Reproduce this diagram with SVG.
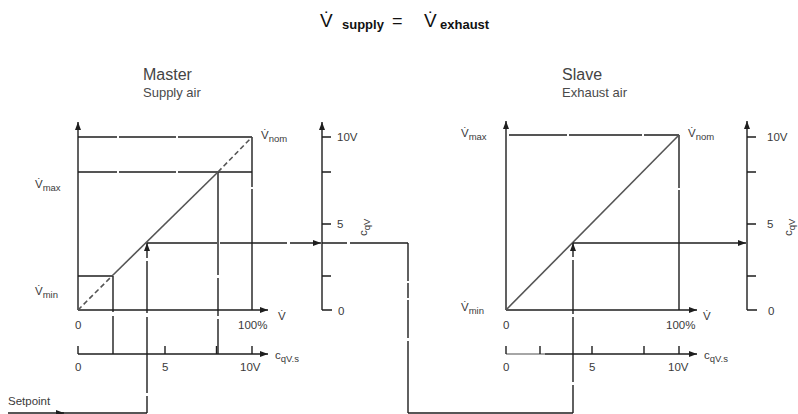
<svg xmlns="http://www.w3.org/2000/svg" width="798" height="414" viewBox="0 0 798 414">
<style>
text{font-family:"Liberation Sans","DejaVu Sans",sans-serif;fill:#3a3a3a}
.ln{stroke:#1e1e1e;stroke-width:1.4;fill:none}
.dg{stroke:#555;stroke-width:1.6;fill:none}
.lb{font-size:11.5px}
.sb{font-size:9.5px}
.ttl{font-size:16px;fill:#444}
.sub{font-size:13px;fill:#4a4a4a}
.fm{fill:#111}
</style>
<defs>
<marker id="arr" viewBox="0 0 8 6" refX="8" refY="3" markerWidth="8" markerHeight="6" markerUnits="userSpaceOnUse" orient="auto"><path d="M0,0 L8,3 L0,6 z" fill="#1e1e1e"/></marker>
</defs>
<rect width="798" height="414" fill="#fff"/>

<g id="formula">
<text class="fm" x="320" y="27" font-size="19">V&#x307;</text>
<text class="fm" x="342" y="29" font-size="13" font-weight="bold">supply</text>
<text class="fm" x="392" y="27" font-size="18">=</text>
<text class="fm" x="424" y="27" font-size="19">V&#x307;</text>
<text class="fm" x="440" y="29" font-size="13" font-weight="bold">exhaust</text>
</g>

<g id="master">
<text class="ttl" x="143" y="80">Master</text>
<text class="sub" x="143" y="97">Supply air</text>
<path class="ln" d="M78,310 V122" marker-end="url(#arr)"/>
<path class="ln" d="M78,310 H268" marker-end="url(#arr)"/>
<path class="ln" d="M78,354 H268" marker-end="url(#arr)"/>
<path class="ln" d="M78,346 V354 M165,346 V354 M252,346 V354"/>
<path class="ln" d="M78,137 H252" stroke-dasharray="39 2 57 2 200"/>
<path class="ln" d="M78,172 H252" stroke-dasharray="39 2 57 2 200"/>
<path class="ln" d="M252,137 V310" stroke-dasharray="50 2 300"/>
<path class="ln" d="M218,172 V354" stroke-dasharray="103 3 38 3 200"/>
<path class="ln" d="M216.5,346 V354" stroke-width="2"/>
<path class="ln" d="M78,276 H113"/>
<path class="ln" d="M113,276 V354" stroke-dasharray="36 4 100"/>
<path class="dg" d="M78,310 L112,276" stroke-dasharray="5 3"/>
<path class="dg" d="M112,276 L218,172"/>
<path class="dg" d="M218,172 L252,137" stroke-dasharray="5 3"/>
<path class="ln" d="M322,310 V122" marker-end="url(#arr)"/>
<path class="ln" d="M322,137 H331 M322,172 H331 M322,224 H331 M322,276 H331 M322,310 H332"/>
<text class="lb" x="261" y="139">V&#x307;<tspan class="sb" dy="2.5">nom</tspan></text>
<text class="lb" x="35" y="188">V&#x307;<tspan class="sb" dy="2.5">max</tspan></text>
<text class="lb" x="35" y="295">V&#x307;<tspan class="sb" dy="2.5">min</tspan></text>
<text class="lb" x="337" y="141">10V</text>
<text class="lb" x="337" y="228">5</text>
<text class="lb" x="338" y="315">0</text>
<text class="lb" transform="translate(367,236) rotate(-90)">c<tspan class="sb" dy="2.5">qV</tspan></text>
<text class="lb" x="75" y="329">0</text>
<text class="lb" x="238" y="329">100%</text>
<text class="lb" x="278" y="320">V&#x307;</text>
<text class="lb" x="75" y="371">0</text>
<text class="lb" x="162" y="371">5</text>
<text class="lb" x="240" y="371">10V</text>
<text class="lb" x="275" y="359">c<tspan class="sb" dy="2.5">qV.s</tspan></text>
<text class="lb" x="8" y="405">Setpoint</text>
</g>

<g id="slave">
<text class="ttl" x="562" y="80">Slave</text>
<text class="sub" x="562" y="97">Exhaust air</text>
<path class="ln" d="M506,310 V121" marker-end="url(#arr)"/>
<path class="ln" d="M506,310 H697" marker-end="url(#arr)"/>
<path class="ln" d="M545,354 H697" marker-end="url(#arr)"/>
<path d="M506,354 H545" stroke="#888" stroke-width="1.4"/>
<path class="ln" d="M506,346 V354 M540,346 V354 M592,346 V354 M644,346 V354 M679,346 V354"/>
<path class="ln" d="M509,135 H679" stroke-dasharray="58 2 73 2 100"/>
<path class="ln" d="M679,135 V310" stroke-dasharray="53 2 200"/>
<path class="dg" d="M506,310 L679,135"/>
<path class="ln" d="M747,310 V121" marker-end="url(#arr)"/>
<path class="ln" d="M747,137 H756 M747,172 H756 M747,224 H756 M747,276 H756 M747,310 H757"/>
<text class="lb" x="461" y="137">V&#x307;<tspan class="sb" dy="2.5">max</tspan></text>
<text class="lb" x="688" y="137">V&#x307;<tspan class="sb" dy="2.5">nom</tspan></text>
<text class="lb" x="461" y="311">V&#x307;<tspan class="sb" dy="2.5">min</tspan></text>
<text class="lb" x="767" y="141">10V</text>
<text class="lb" x="767" y="228">5</text>
<text class="lb" x="768" y="315">0</text>
<text class="lb" transform="translate(792,236) rotate(-90)">c<tspan class="sb" dy="2.5">qV</tspan></text>
<text class="lb" x="503" y="329">0</text>
<text class="lb" x="666" y="329">100%</text>
<text class="lb" x="703" y="320">V&#x307;</text>
<text class="lb" x="503" y="371">0</text>
<text class="lb" x="589" y="371">5</text>
<text class="lb" x="668" y="371">10V</text>
<text class="lb" x="704" y="359">c<tspan class="sb" dy="2.5">qV.s</tspan></text>
</g>

<g id="connectors">
<path class="ln" d="M8,413 H64" marker-end="url(#arr)"/>
<path class="ln" d="M60,413 H147"/>
<path class="ln" d="M147,413 V243" stroke-dasharray="17 3 76 4 52 3 100" marker-end="url(#arr)"/>
<path class="ln" d="M147,243 H321" stroke-dasharray="70 3 67 3 100" marker-end="url(#arr)"/>
<path class="ln" d="M322,243 H347 M350,243 H408"/>
<path class="ln" d="M408,243 V413" stroke-dasharray="38 2 15 2 38 3 200"/>
<path class="ln" d="M408,413 H573"/>
<path class="ln" d="M573,413 V243" stroke-dasharray="28 3 65 3 54 3 100" marker-end="url(#arr)"/>
<path class="ln" d="M573,243 H746" marker-end="url(#arr)"/>
</g>
</svg>
